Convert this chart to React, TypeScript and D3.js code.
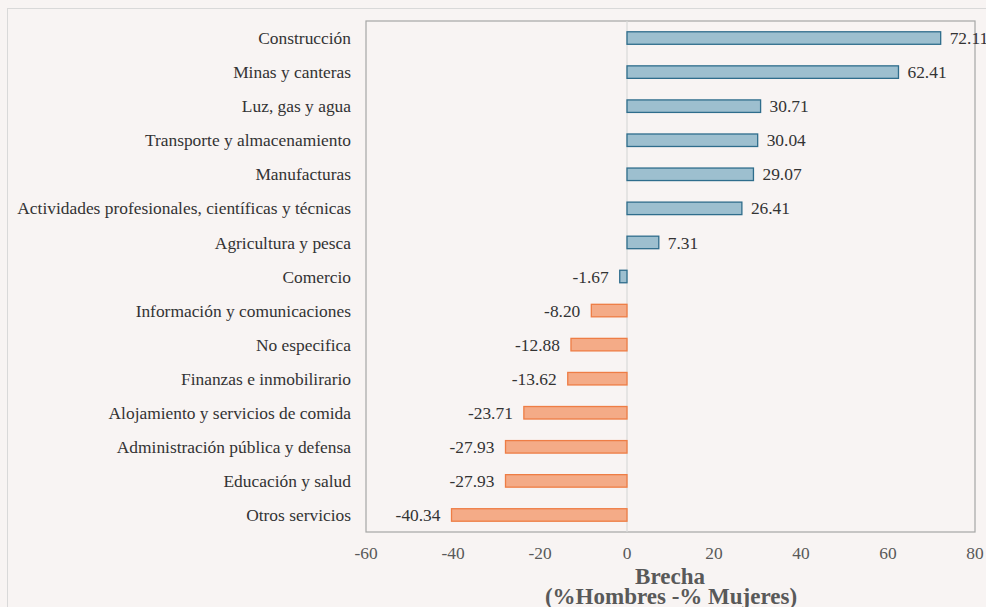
import React from "react";
import * as d3 from "d3";

const categories = [
  "Construcción",
  "Minas y canteras",
  "Luz, gas y agua",
  "Transporte y almacenamiento",
  "Manufacturas",
  "Actividades profesionales, científicas y técnicas",
  "Agricultura y pesca",
  "Comercio",
  "Información y comunicaciones",
  "No especifica",
  "Finanzas e inmobilirario",
  "Alojamiento y servicios de comida",
  "Administración pública y defensa",
  "Educación y salud",
  "Otros servicios",
];
const values = [72.11, 62.41, 30.71, 30.04, 29.07, 26.41, 7.31, -1.67, -8.2, -12.88, -13.62, -23.71, -27.93, -27.93, -40.34];
const xTicks = [-60, -40, -20, 0, 20, 40, 60, 80];
const blueCount = 8;

export default function App() {
  const W = 986, H = 607;
  const left = 366, right = 975, top = 21, bottom = 532;
  const x = d3.scaleLinear().domain([-60, 80]).range([left, right]);
  const y = d3.scaleBand().domain(categories).range([top, bottom]);
  const barH = 12.5;
  const font = "'Liberation Serif', 'DejaVu Serif', serif";
  const fs = 17.4;
  return (
    <svg width={W} height={H} style={{ position: "absolute", left: 0, top: 0, background: "#f8f4f3" }}>
      <rect x={0} y={0} width={W} height={H} fill="#f8f4f3" />
      <rect x={7.5} y={8.5} width={W + 20} height={H + 20} fill="none" stroke="#d9d9d9" strokeWidth={1} />
      <rect x={left} y={top} width={right - left} height={bottom - top} fill="none" stroke="#a6a6a6" strokeWidth={1.2} />
      <line x1={x(0)} x2={x(0)} y1={top} y2={bottom} stroke="#d9d9d9" strokeWidth={1.2} />
      {categories.map((c, i) => {
        const v = values[i];
        const yc = (y(c) as number) + y.bandwidth() / 2;
        const blue = i < blueCount;
        const x0 = x(Math.min(0, v));
        const x1 = x(Math.max(0, v));
        return (
          <g key={c}>
            <rect
              x={x0}
              y={yc - barH / 2}
              width={x1 - x0}
              height={barH}
              fill={blue ? "#9dbfcf" : "#f4ab87"}
              stroke={blue ? "#2f6d8c" : "#ee7d45"}
              strokeWidth={1.3}
            />
            <text x={351} y={yc} dy="0.35em" textAnchor="end" fontFamily={font} fontSize={fs} fill="#333">
              {c}
            </text>
            <text
              x={v >= 0 ? x(v) + 9 : x(v) - 11}
              y={yc}
              dy="0.35em"
              textAnchor={v >= 0 ? "start" : "end"}
              fontFamily={font}
              fontSize={fs}
              fill="#333"
            >
              {v.toFixed(2)}
            </text>
          </g>
        );
      })}
      {xTicks.map((t) => (
        <text key={t} x={x(t)} y={553} dy="0.35em" textAnchor="middle" fontFamily={font} fontSize={fs} fill="#595959">
          {t}
        </text>
      ))}
      <text x={670} y={576} dy="0.35em" textAnchor="middle" fontFamily={font} fontSize={23} fontWeight="bold" fill="#595959">
        Brecha
      </text>
      <text x={671} y={596} dy="0.35em" textAnchor="middle" fontFamily={font} fontSize={23} fontWeight="bold" fill="#595959">
        (%Hombres -% Mujeres)
      </text>
    </svg>
  );
}
